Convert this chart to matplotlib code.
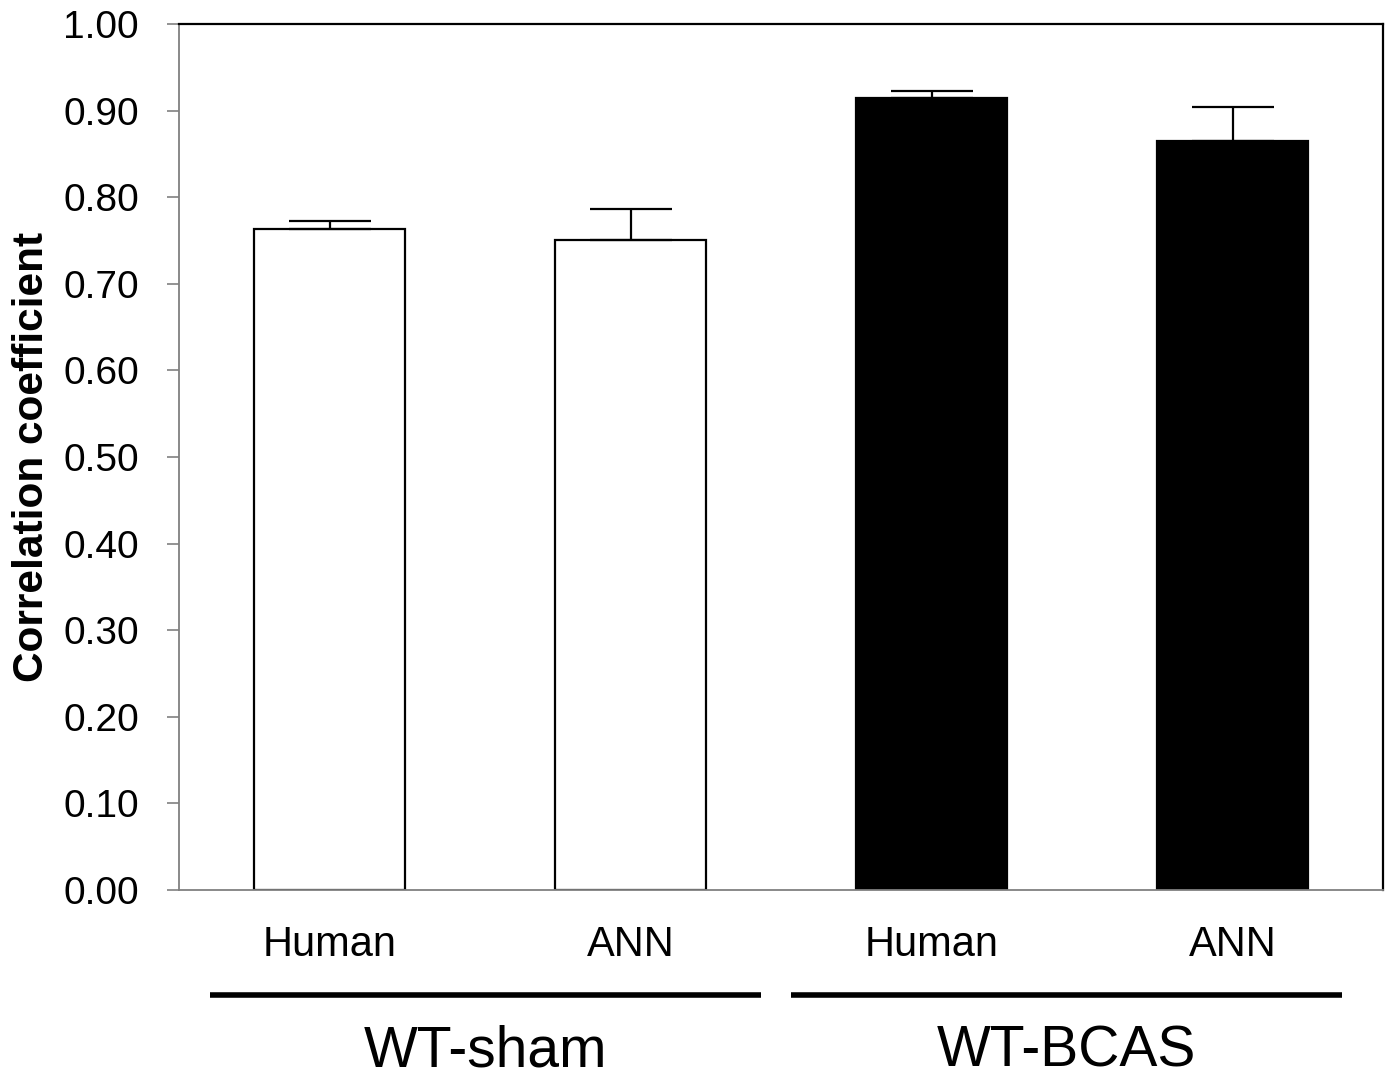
import matplotlib
matplotlib.use("Agg")
import matplotlib.pyplot as plt
import numpy as np

plt.rcParams['font.family'] = ['Liberation Sans', 'DejaVu Sans']

# bars in order: sham-Human, sham-ANN, BCAS-Human, BCAS-ANN
tick_labels = ["Human", "ANN", "Human", "ANN"]
means = [0.763, 0.751, 0.915, 0.865]
errors = [0.009, 0.035, 0.007, 0.039]
fills = ["white", "white", "black", "black"]
groups = ["WT-sham", "WT-BCAS"]

fig = plt.figure(figsize=(13.9, 10.78), dpi=100)
ax = fig.add_axes([0.1288, 0.1744, 0.8662, 0.8034])

x = np.arange(len(means))
ax.bar(x, means, width=0.5, color=fills, edgecolor="black", linewidth=1.6,
       yerr=[np.zeros(len(errors)), errors],
       error_kw=dict(ecolor="black", elinewidth=1.6, capsize=29.5, capthick=1.6))

ax.set_xlim(-0.5, 3.5)
ax.set_ylim(0, 1.0)
ax.set_yticks(np.arange(0, 1.01, 0.1))
ax.set_yticklabels([f"{v:.2f}" for v in np.arange(0, 1.01, 0.1)], fontsize=28)
ax.set_xticks(x)
ax.set_xticklabels(tick_labels, fontsize=30)
ax.tick_params(axis="x", length=0, pad=25)
ax.tick_params(axis="y", length=9, width=1.2, color="#808080", pad=20)

for side in ("left", "bottom"):
    ax.spines[side].set_color("#808080")
    ax.spines[side].set_linewidth(1.3)
for side in ("top", "right"):
    ax.spines[side].set_color("black")
    ax.spines[side].set_linewidth(1.6)

ax.set_ylabel("Correlation coefficient", fontsize=30.5, fontweight="bold", labelpad=8)

# group underlines and names
trans = ax.get_xaxis_transform()
spans = [(-0.397, 1.433), (1.533, 3.364)]
for (x0, x1), name in zip(spans, groups):
    ax.plot([x0, x1], [-0.121, -0.121], color="black", lw=4, transform=trans,
            clip_on=False, solid_capstyle="butt")
    ax.text((x0 + x1) / 2, -0.187, name, transform=trans, ha="center", va="center",
            fontsize=41)

fig.savefig("out.png", dpi=100)
